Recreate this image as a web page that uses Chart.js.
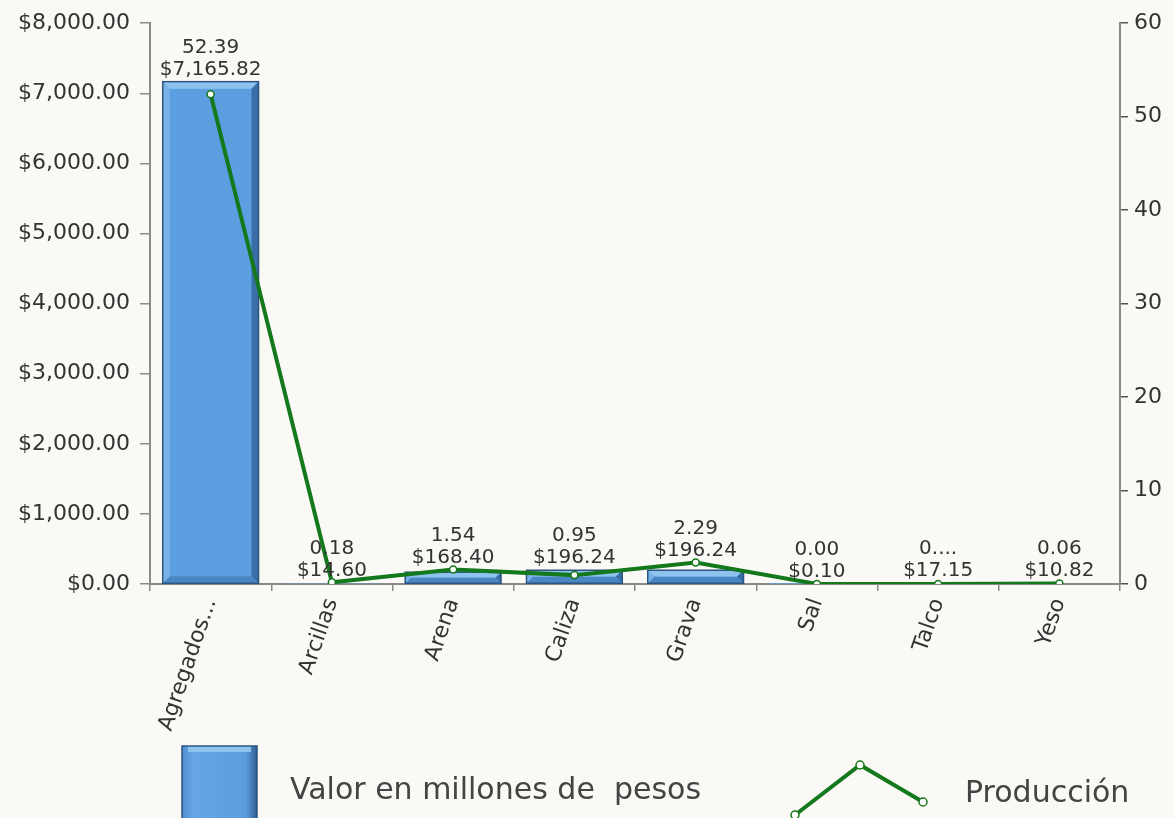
<!DOCTYPE html>
<html>
<head>
<meta charset="utf-8">
<script src="https://cdn.jsdelivr.net/npm/chart.js@4"></script>
<style>
  html, body { margin: 0; padding: 0; background: #fbf9f5; }
  #wrap { width: 1174px; height: 818px; position: relative; }
</style>
</head>
<body>
<div id="wrap"><canvas id="mineria-chart"></canvas></div>
<script>
const categorias = ["Agregados...", "Arcillas", "Arena", "Caliza", "Grava", "Sal", "Talco", "Yeso"];
const valorMillones = [7165.82, 14.60, 168.40, 196.24, 196.24, 0.10, 17.15, 10.82];
const produccion = [52.39, 0.18, 1.54, 0.95, 2.29, 0.00, 0.01, 0.06];
const produccionEtiquetas = ["52.39", "0.18", "1.54", "0.95", "2.29", "0.00", "0....", "0.06"];
const ticksValor = [0, 1000, 2000, 3000, 4000, 5000, 6000, 7000, 8000];
const ticksProduccion = [0, 10, 20, 30, 40, 50, 60];

const fuente = "'DejaVu Sans', sans-serif";
const verde = '#14781c';
const azul = '#5c9fe0';
const textoColor = '#333333';

const pesos = v => '$' + v.toLocaleString('en-US', {minimumFractionDigits: 2, maximumFractionDigits: 2});

// bevel look on the bars
const bevelPlugin = {
    id: 'bevel',
    afterDatasetDraw(chart, args) {
        if (args.index !== 1) return;
        const ctx = chart.ctx;
        args.meta.data.forEach(bar => {
            const p = bar.getProps(['x', 'y', 'base', 'width'], true);
            const l = p.x - p.width / 2, r = p.x + p.width / 2;
            const t = p.y, b = p.base;
            const h = b - t;
            if (h < 1) return;
            const e = Math.min(7, h / 2);
            ctx.save();
            ctx.fillStyle = '#8ec3f0';
            ctx.beginPath();
            ctx.moveTo(l, t); ctx.lineTo(r, t); ctx.lineTo(r - e, t + e); ctx.lineTo(l + e, t + e);
            ctx.closePath(); ctx.fill();
            ctx.fillStyle = '#3a6ea6';
            ctx.beginPath();
            ctx.moveTo(r, t); ctx.lineTo(r, b); ctx.lineTo(r - e, b - e); ctx.lineTo(r - e, t + e);
            ctx.closePath(); ctx.fill();
            ctx.fillStyle = '#4a86c4';
            ctx.beginPath();
            ctx.moveTo(l, b); ctx.lineTo(r, b); ctx.lineTo(r - e, b - e); ctx.lineTo(l + e, b - e);
            ctx.closePath(); ctx.fill();
            ctx.fillStyle = '#78b2e8';
            ctx.beginPath();
            ctx.moveTo(l, t); ctx.lineTo(l + e, t + e); ctx.lineTo(l + e, b - e); ctx.lineTo(l, b);
            ctx.closePath(); ctx.fill();
            ctx.strokeStyle = '#2c5580';
            ctx.lineWidth = 1.5;
            ctx.strokeRect(l, t, p.width, h);
            ctx.restore();
        });
    }
};

// value labels above bars and points
const etiquetasPlugin = {
    id: 'etiquetas',
    afterDatasetsDraw(chart) {
        const ctx = chart.ctx;
        const lineMeta = chart.getDatasetMeta(0);
        const barMeta = chart.getDatasetMeta(1);
        ctx.save();
        ctx.font = '20px ' + fuente;
        ctx.fillStyle = textoColor;
        ctx.textAlign = 'center';
        ctx.textBaseline = 'middle';
        barMeta.data.forEach((bar, i) => {
            const pt = lineMeta.data[i];
            const top = Math.min(bar.y, pt.y);
            const yBar = top - 12;
            ctx.fillText(pesos(valorMillones[i]), bar.x, yBar);
            ctx.fillText(produccionEtiquetas[i], bar.x, yBar - 22);
        });
        ctx.restore();
    }
};

// legend drawn under the axis labels
const leyendaPlugin = {
    id: 'leyenda',
    afterDraw(chart) {
        const ctx = chart.ctx;
        const y0 = chart.chartArea.bottom;
        ctx.save();
        // bar symbol
        const bx = 182, by = y0 + 162, bw = 75, bh = 80;
        const g = ctx.createLinearGradient(bx, 0, bx + bw, 0);
        g.addColorStop(0, '#4f8fd0');
        g.addColorStop(0.15, '#66a6e4');
        g.addColorStop(0.85, '#5c9ddc');
        g.addColorStop(1, '#2f5f92');
        ctx.fillStyle = g;
        ctx.fillRect(bx, by, bw, bh);
        ctx.fillStyle = '#8ec3f0';
        ctx.fillRect(bx + 6, by, bw - 12, 6);
        ctx.strokeStyle = '#2c5580';
        ctx.lineWidth = 1.5;
        ctx.strokeRect(bx, by, bw, bh);

        ctx.font = '30px ' + fuente;
        ctx.fillStyle = '#444444';
        ctx.textBaseline = 'middle';
        ctx.textAlign = 'left';
        ctx.fillText('Valor en millones de  pesos', 290, y0 + 207);
        ctx.fillText('Producción', 965, y0 + 210);

        // line symbol
        const pts = [[795, y0 + 231], [860, y0 + 181], [923, y0 + 218]];
        ctx.strokeStyle = verde;
        ctx.lineWidth = 4;
        ctx.beginPath();
        pts.forEach((p, i) => i ? ctx.lineTo(p[0], p[1]) : ctx.moveTo(p[0], p[1]));
        ctx.stroke();
        pts.forEach(p => {
            ctx.beginPath();
            ctx.arc(p[0], p[1], 4, 0, Math.PI * 2);
            ctx.fillStyle = '#ffffff';
            ctx.fill();
            ctx.lineWidth = 1.5;
            ctx.stroke();
        });
        ctx.restore();
    }
};

const mineriaCanvas = document.getElementById('mineria-chart');
const mineriaData = {
    labels: categorias,
    datasets: [{
        type: 'line',
        label: 'Producción',
        data: produccion,
        yAxisID: 'y1',
        borderColor: verde,
        borderWidth: 4,
        pointRadius: 3.5,
        pointBackgroundColor: '#ffffff',
        pointBorderColor: verde,
        pointBorderWidth: 1.5,
        tension: 0,
        order: 0
    }, {
        type: 'bar',
        label: 'Valor en millones de  pesos',
        data: valorMillones,
        yAxisID: 'y',
        backgroundColor: azul,
        borderWidth: 0,
        barPercentage: 0.79,
        categoryPercentage: 1,
        order: 1
    }]
};
const mineriaOptions = {
    responsive: true,
    maintainAspectRatio: false,
    animation: false,
    layout: {
        padding: { top: 20, left: 0, right: 0, bottom: 0 }
    },
    scales: {
        x: {
            offset: true,
            grid: {
                offset: true,
                drawOnChartArea: false,
                drawTicks: true,
                tickLength: 7,
                color: '#8a8a8a',
                lineWidth: 1.5
            },
            border: { color: '#8a8a8a', width: 2 },
            ticks: {
                color: textoColor,
                font: { family: fuente, size: 22 },
                minRotation: 71,
                maxRotation: 71,
                autoSkip: false,
                padding: 4
            },
            afterFit: s => { s.height = 234; }
        },
        y: {
            position: 'left',
            min: 0,
            max: 8000,
            afterBuildTicks: s => { s.ticks = ticksValor.map(v => ({value: v})); },
            grid: {
                drawOnChartArea: false,
                tickLength: 10,
                color: '#8a8a8a',
                lineWidth: 1.5
            },
            border: { color: '#8a8a8a', width: 2 },
            ticks: {
                color: textoColor,
                font: { family: fuente, size: 22 },
                padding: 10,
                callback: v => pesos(v)
            },
            afterFit: s => { s.width = 150; }
        },
        y1: {
            position: 'right',
            min: 0,
            max: 60,
            afterBuildTicks: s => { s.ticks = ticksProduccion.map(v => ({value: v})); },
            grid: {
                drawOnChartArea: false,
                tickLength: 8,
                color: '#555555',
                lineWidth: 1.5
            },
            border: { color: '#8a8a8a', width: 2 },
            ticks: {
                color: textoColor,
                font: { family: fuente, size: 22 },
                padding: 6
            },
            afterFit: s => { s.width = 54; }
        }
    },
    plugins: {
        legend: { display: false },
        tooltip: { enabled: false }
    }
};
let mineriaChart = new Chart(mineriaCanvas, {
    type: 'bar',
    data: mineriaData,
    options: mineriaOptions,
    plugins: [bevelPlugin, etiquetasPlugin, leyendaPlugin]
});
</script>
</body>
</html>
